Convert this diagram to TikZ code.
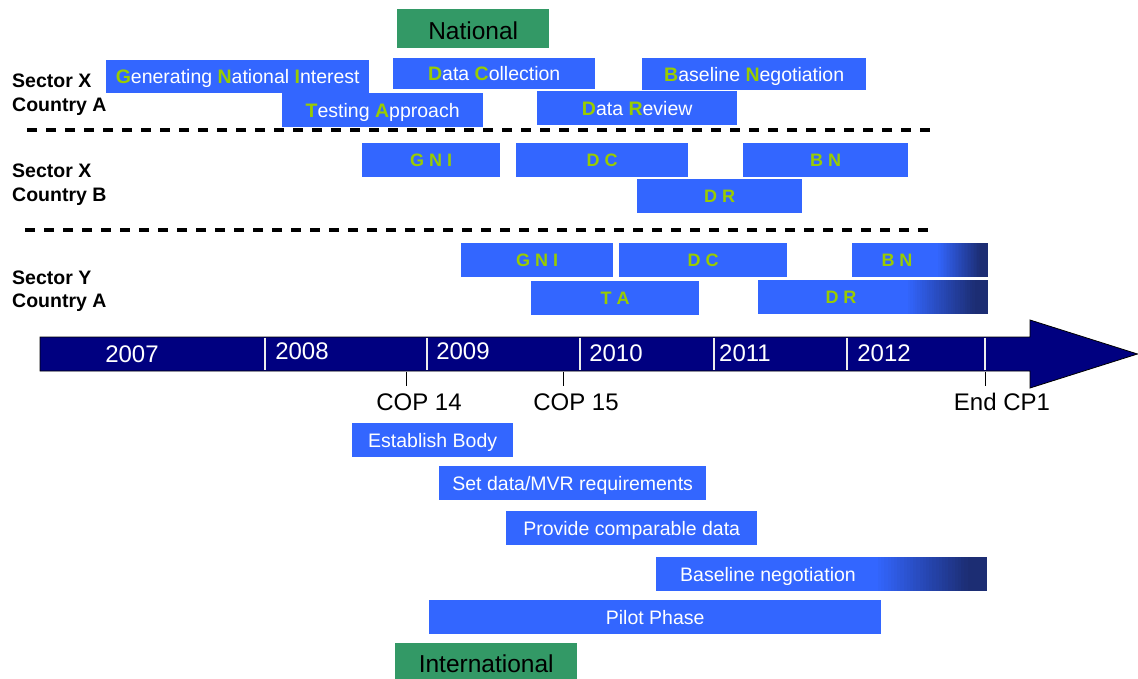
\documentclass[tikz,border=0pt]{standalone}
\usepackage{fontspec}
\setmainfont{Liberation Sans}
\usetikzlibrary{calc}
\definecolor{barblue}{RGB}{51,102,255}
\definecolor{lettergreen}{RGB}{153,204,0}
\definecolor{boxgreen}{RGB}{51,153,102}
\definecolor{navy}{RGB}{0,0,128}
\definecolor{darkend}{RGB}{28,45,115}
\newcommand\gk[1]{{\bfseries\color{lettergreen}#1}}
% gradient strips over the right part of a bar: #1 node name, #2 start fraction
\newcommand\fadebar[2]{%
  \foreach \i in {0,...,29}{%
    \pgfmathsetmacro\fa{#2+(0.95-#2)*\i/30}%
    \pgfmathsetmacro\fb{#2+(0.95-#2)*(\i+1)/30+0.004}%
    \pgfmathtruncatemacro\pc{100-\i*100/29}%
    \fill[barblue!\pc!darkend] ($(#1.north west)!\fa!(#1.north east)$) rectangle ($(#1.south west)!\fb!(#1.south east)$);
  }%
  \fill[darkend] ($(#1.north west)!0.95!(#1.north east)$) rectangle (#1.south east);%
}
\tikzset{
  bar/.style={fill=barblue, draw=none, anchor=north west, inner sep=0pt, text=white,
    font=\fontsize{19.5}{20}\selectfont, text height=14pt, text depth=0pt},
  abbr/.style={bar, font=\fontsize{18}{20}\bfseries, text=lettergreen, text height=13pt},
  gbox/.style={fill=boxgreen, draw=none, anchor=north west, inner sep=0pt, text=black,
    font=\fontsize{24.5}{26}\selectfont, text height=22pt, text depth=0pt},
  sector/.style={anchor=west, align=left, inner sep=0pt, font=\fontsize{19.5}{23.5}\bfseries},
  sep/.style={line width=3.5pt, dash pattern=on 10pt off 9pt},
  year/.style={text=white, inner sep=0pt, font=\fontsize{24}{24}\selectfont},
  divider/.style={draw=white!85!gray, line width=1.6pt},
  tick/.style={draw=black, line width=0.9pt},
  milestone/.style={inner sep=0pt, font=\fontsize{24}{24}\selectfont},
  lbl/.style={inner sep=0pt, text=white, font=\fontsize{19.5}{20}\selectfont, text height=14pt, text depth=0pt},
  lbla/.style={inner sep=0pt, text=lettergreen, font=\fontsize{18}{20}\bfseries, text height=13pt, text depth=0pt},
}
\begin{document}
\begin{tikzpicture}[x=1pt,y=-1pt]
\useasboundingbox (0,0) rectangle (1138,679);

% ---- Sector labels
\node[sector] (sxa) at (12,94.5) {Sector X\\Country A};
\node[sector] (sxb) at (12,184.5) {Sector X\\Country B};
\node[sector] (sya) at (12,291) {Sector Y\\Country A};

% ---- National header
\node[gbox, minimum width=152pt, minimum height=39pt] (nat) at (397,9) {National};

% ---- Sector X Country A
\node[bar, minimum width=263pt, minimum height=33pt] (gni) at (106,60) {\gk{G}enerating \gk{N}ational \gk{I}nterest};
\node[bar, minimum width=202pt, minimum height=31pt] (dc) at (393,58) {\gk{D}ata \gk{C}ollection};
\node[bar, minimum width=224pt, minimum height=32pt] (bn) at (642,58) {\gk{B}aseline \gk{N}egotiation};
\node[bar, minimum width=201pt, minimum height=34pt] (ta) at (282,93) {\gk{T}esting \gk{A}pproach};
\node[bar, minimum width=200pt, minimum height=34pt] (dr) at (537,91) {\gk{D}ata \gk{R}eview};

\coordinate (d1s) at (27,130);
\coordinate (d1e) at (930,130);
\draw[sep] (d1s) -- (d1e);

% ---- Sector X Country B
\node[abbr, minimum width=138pt, minimum height=34pt] (gnib) at (362,143) {G N I};
\node[abbr, minimum width=172pt, minimum height=34pt] (dcb) at (516,143) {D C};
\node[abbr, minimum width=165pt, minimum height=34pt] (bnb) at (743,143) {B N};
\node[abbr, minimum width=165pt, minimum height=34pt] (drb) at (637,179) {D R};

\coordinate (d2s) at (25,230);
\coordinate (d2e) at (928,230);
\draw[sep] (d2s) -- (d2e);

% ---- Sector Y Country A
\node[abbr, minimum width=152pt, minimum height=34pt] (gniy) at (461,243) {G N I};
\node[abbr, minimum width=168pt, minimum height=34pt] (dcy) at (619,243) {D C};
\node[bar, minimum width=136pt, minimum height=34pt] (bny) at (852,243) {};
\fadebar{bny}{0.62}
\node[lbla] (bnyt) at ($(bny.west)+(45,0)$) {B N};
\node[abbr, minimum width=168pt, minimum height=34pt] (tay) at (531,281) {T A};
\node[bar, minimum width=230pt, minimum height=34pt] (dry) at (758,280) {};
\fadebar{dry}{0.64}
\node[lbla] (dryt) at ($(dry.west)+(83,0)$) {D R};

% ---- Timeline arrow
\draw[fill=navy, draw=black, line width=0.8pt, line join=miter]
  (40,337) -- (1030,337) -- (1030,320) -- (1137.5,354) -- (1030,388) -- (1030,371) -- (40,371) -- cycle;
\foreach \x/\n in {265/v1,427/v2,580/v3,714/v4,847/v5,985/v6}{
  \coordinate (\n t) at (\x,337.8);
  \coordinate (\n b) at (\x,370.2);
  \draw[divider] (\n t) -- (\n b);
}
\node[year] (y2007) at (132,354) {2007};
\node[year] (y2008) at (302,351) {2008};
\node[year] (y2009) at (463,351) {2009};
\node[year] (y2010) at (616,353) {2010};
\node[year] (y2011) at (745,353) {2011};
\node[year] (y2012) at (884,353) {2012};

% ---- Milestones
\coordinate (c14a) at (406,371.5);
\coordinate (c14b) at (406,386);
\coordinate (c15a) at (563,371.5);
\coordinate (c15b) at (563,386);
\coordinate (cpa) at (985,371.5);
\coordinate (cpb) at (985,386);
\draw[tick] (c14a) -- (c14b);
\draw[tick] (c15a) -- (c15b);
\draw[tick] (cpa) -- (cpb);
\node[milestone] (cop14) at (419,402) {COP 14};
\node[milestone] (cop15) at (576,402) {COP 15};
\node[milestone] (endcp) at (1002,402) {End CP1};

% ---- International track
\node[bar, minimum width=161pt, minimum height=34pt] (eb) at (352,423) {Establish Body};
\node[bar, minimum width=267pt, minimum height=34pt] (sd) at (439,466) {Set data/MVR requirements};
\node[bar, minimum width=251pt, minimum height=34pt] (pc) at (506,511) {Provide comparable data};
\node[bar, minimum width=331pt, minimum height=34pt] (bneg) at (656,557) {};
\fadebar{bneg}{0.66}
\node[lbl] (bnegt) at ($(bneg.west)+(112,0)$) {Baseline negotiation};
\node[bar, minimum width=452pt, minimum height=34pt] (pp) at (429,600) {Pilot Phase};
\node[gbox, minimum width=182pt, minimum height=36pt] (intl) at (395,643) {International};
\end{tikzpicture}
\end{document}
